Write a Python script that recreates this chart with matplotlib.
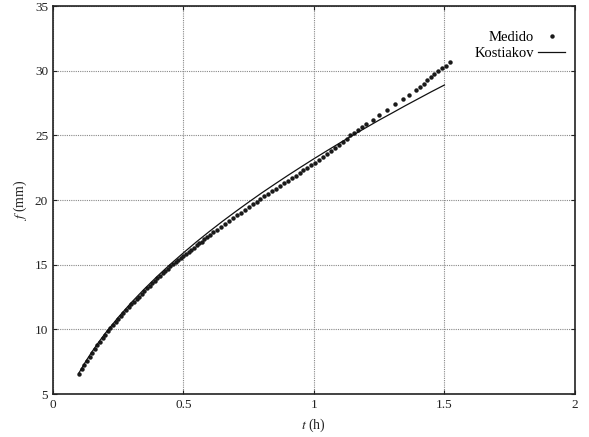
import matplotlib
matplotlib.use("Agg")
import matplotlib.pyplot as plt

# Measured infiltration (Medido)
t_med = [0.10, 0.11, 0.12, 0.13, 0.14, 0.15, 0.16, 0.17, 0.18, 0.19, 0.20,
         0.21, 0.22, 0.23, 0.24, 0.25, 0.26, 0.27, 0.28, 0.29, 0.30,
         0.31, 0.32, 0.33, 0.34, 0.35, 0.36, 0.37, 0.38, 0.39, 0.40,
         0.41, 0.42, 0.43, 0.44, 0.45, 0.46, 0.47, 0.48, 0.49, 0.50,
         0.51, 0.52, 0.53, 0.54, 0.55, 0.56, 0.57, 0.58, 0.59, 0.60,
         0.615, 0.63, 0.645, 0.66, 0.675, 0.69, 0.705, 0.72, 0.735, 0.75,
         0.765, 0.78, 0.795, 0.81, 0.825, 0.84, 0.855, 0.87, 0.885, 0.90,
         0.915, 0.93, 0.945, 0.96, 0.975, 0.99, 1.005, 1.02, 1.035, 1.05,
         1.065, 1.08, 1.095, 1.11, 1.125, 1.14, 1.155, 1.17, 1.185, 1.20,
         1.225, 1.25, 1.28, 1.31, 1.34, 1.365, 1.39,
         1.405, 1.42, 1.435, 1.45, 1.46, 1.475, 1.49, 1.505, 1.52]
f_med = [6.55, 6.92, 7.25, 7.55, 7.9, 8.2, 8.48, 8.8, 9.05, 9.35, 9.6,
         9.85, 10.1, 10.35, 10.6, 10.82, 11.08, 11.3, 11.52, 11.75, 11.95,
         12.15, 12.38, 12.55, 12.78, 12.98, 13.18, 13.38, 13.56, 13.78, 13.95,
         14.15, 14.33, 14.5, 14.7, 14.88, 15.03, 15.2, 15.37, 15.52, 15.68,
         15.84, 16.0, 16.16, 16.32, 16.5, 16.65, 16.8, 16.97, 17.13, 17.28,
         17.5, 17.72, 17.95, 18.18, 18.4, 18.6, 18.82, 19.03, 19.25, 19.45,
         19.68, 19.87, 20.08, 20.3, 20.5, 20.7, 20.9, 21.1, 21.3, 21.5,
         21.7, 21.9, 22.1, 22.3, 22.5, 22.7, 22.9, 23.12, 23.35, 23.57,
         23.8, 24.03, 24.27, 24.5, 24.75, 25.0, 25.2, 25.42, 25.63, 25.85,
         26.2, 26.55, 26.95, 27.4, 27.8, 28.15, 28.5,
         28.75, 29.0, 29.3, 29.55, 29.75, 30.0, 30.2, 30.4, 30.7]

# Kostiakov model curve
t_kos = [0.10, 0.125, 0.15, 0.175, 0.20, 0.25, 0.30, 0.35, 0.40, 0.45, 0.50,
         0.55, 0.60, 0.65, 0.70, 0.75, 0.80, 0.85, 0.90, 0.95, 1.00,
         1.05, 1.10, 1.15, 1.20, 1.25, 1.30, 1.35, 1.40, 1.45, 1.50]
f_kos = [6.66, 7.52, 8.30, 9.02, 9.70, 10.94, 12.08, 13.13, 14.12, 15.05, 15.93,
         16.78, 17.59, 18.37, 19.12, 19.85, 20.56, 21.24, 21.91, 22.56, 23.20,
         23.82, 24.43, 25.03, 25.61, 26.19, 26.74, 27.30, 27.84, 28.38, 28.90]

xticks = [0, 0.5, 1, 1.5, 2]
xticklabels = ["0", "0.5", "1", "1.5", "2"]
yticks = [5, 10, 15, 20, 25, 30, 35]

plt.rcParams['font.family'] = ['Liberation Serif', 'DejaVu Serif']
plt.rcParams['mathtext.fontset'] = 'stix'

fig = plt.figure(figsize=(5.89, 4.37), dpi=100)
ax = fig.add_axes([0.090, 0.098, 0.886, 0.888])

ax.plot(t_med, f_med, 'o', color='#1a1a1a', ms=3.2, mew=0, label='Medido')
ax.plot(t_kos, f_kos, '-', color='#111111', lw=0.9, label='Kostiakov')

ax.set_xlim(0, 2)
ax.set_ylim(5, 35)
ax.set_xticks(xticks)
ax.set_xticklabels(xticklabels)
ax.set_yticks(yticks)
ax.tick_params(direction='in', length=3, width=0.8, labelsize=9.5,
               top=True, right=True, colors='#222222')
ax.grid(True, color='#888888', linestyle=(0, (1, 1)), linewidth=0.8)
for s in ax.spines.values():
    s.set_linewidth(1.2)
    s.set_color('#222222')

ax.set_xlabel('$t$ (h)', fontsize=10, color='#222222')
ax.set_ylabel('$f$ (mm)', fontsize=10, color='#222222')

leg = ax.legend(loc='upper right', bbox_to_anchor=(1.0, 0.962),
                frameon=False, markerfirst=False,
                fontsize=10.5, handlelength=1.8, borderaxespad=0.3,
                labelspacing=0.2, handletextpad=0.3)

fig.savefig('out.png', dpi=100)
